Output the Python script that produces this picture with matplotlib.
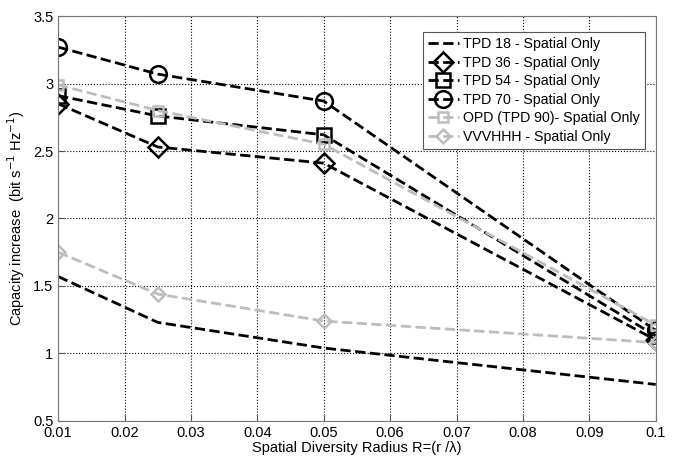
import numpy as np
import matplotlib.pyplot as plt

plt.rcParams['font.family'] = ['Liberation Sans', 'DejaVu Sans']

radius = [0.01, 0.025, 0.05, 0.1]
tpd18 = [1.57, 1.23, 1.04, 0.77]
tpd36 = [2.85, 2.53, 2.41, 1.10]
tpd54 = [2.91, 2.76, 2.62, 1.13]
tpd70 = [3.27, 3.07, 2.87, 1.17]
opd90 = [2.99, 2.80, 2.55, 1.21]
vvvhhh = [1.75, 1.44, 1.24, 1.08]

fig = plt.figure(figsize=(6.76, 4.59), dpi=100)
ax = fig.add_axes([0.086, 0.083, 0.884, 0.882])

gray = '#bdbdbd'
ax.plot(radius, tpd18, 'k--', lw=2, label='TPD 18 - Spatial Only')
ax.plot(radius, tpd36, 'k--', lw=2, marker='D', ms=10, mfc='none', mew=1.8, label='TPD 36 - Spatial Only')
ax.plot(radius, tpd54, 'k--', lw=2, marker='s', ms=10, mfc='none', mew=1.8, label='TPD 54 - Spatial Only')
ax.plot(radius, tpd70, 'k--', lw=2, marker='o', ms=12, mfc='none', mew=1.8, label='TPD 70 - Spatial Only')
ax.plot(radius, opd90, '--', color=gray, lw=2, marker='s', ms=7, mfc='none', mew=1.8, label='OPD (TPD 90)- Spatial Only')
ax.plot(radius, vvvhhh, '--', color=gray, lw=2, marker='D', ms=7, mfc='none', mew=1.8, label='VVVHHH - Spatial Only')

ax.set_xlim(0.01, 0.1)
ax.set_ylim(0.5, 3.5)
ax.set_xticks(np.arange(0.01, 0.1001, 0.01))
ax.set_xticklabels(['0.01', '0.02', '0.03', '0.04', '0.05', '0.06', '0.07', '0.08', '0.09', '0.1'])
ax.set_yticks([0.5, 1, 1.5, 2, 2.5, 3, 3.5])
ax.set_yticklabels(['0.5', '1', '1.5', '2', '2.5', '3', '3.5'])
ax.tick_params(direction='in', labelsize=10.5, length=4, color='#555555')
ax.grid(True, color='k', ls=':', lw=0.8)
for s in ax.spines.values():
    s.set_color('#777777')

ax.set_xlabel('Spatial Diversity Radius R=(r /\u03bb)', fontsize=10.5, labelpad=1)
ax.set_ylabel('Capacity increase  (bit s$^{-1}$ Hz$^{-1}$)', fontsize=10.5, labelpad=4)

leg = ax.legend(loc='upper right', bbox_to_anchor=(0.982, 0.96), borderaxespad=0, fontsize=10.2,
                fancybox=False, framealpha=1, edgecolor='#555555', handlelength=2.2,
                labelspacing=0.32, borderpad=0.35, handletextpad=0.3)
leg.get_frame().set_linewidth(0.8)

fig.savefig('out.png', dpi=100)
